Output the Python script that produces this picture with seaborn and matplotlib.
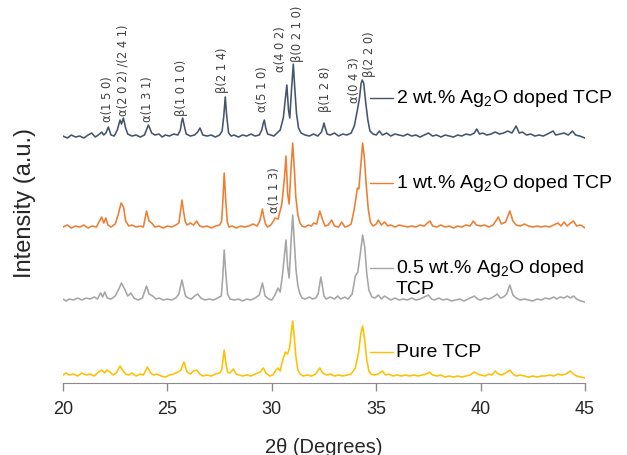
import numpy as np
import seaborn as sns
import matplotlib.pyplot as plt

# XRD patterns: (2theta, intensity above own baseline)
pure_tcp = [
    (20.0, 3), (20.15, 5), (20.3, 3), (20.5, 4), (20.7, 2), (20.9, 5), (21.1, 3), (21.3, 4),
    (21.5, 2), (21.65, 5), (21.85, 8), (22.0, 5), (22.1, 8), (22.25, 6), (22.4, 3), (22.55, 5),
    (22.73, 12), (22.85, 8), (23.0, 4), (23.15, 3), (23.3, 5), (23.5, 2), (23.7, 4), (23.85, 3),
    (24.04, 11), (24.2, 5), (24.35, 3), (24.5, 4), (24.7, 2), (24.9, 1), (25.1, 3), (25.3, 4),
    (25.5, 6), (25.65, 8), (25.73, 13), (25.8, 16), (25.88, 10), (25.95, 6), (26.1, 4),
    (26.25, 7), (26.4, 8), (26.55, 4), (26.7, 2), (26.9, 3), (27.1, 2), (27.3, 4), (27.5, 5),
    (27.6, 8), (27.66, 18), (27.72, 28), (27.8, 15), (27.88, 6), (28.0, 5), (28.15, 9),
    (28.3, 4), (28.45, 3), (28.6, 2), (28.8, 3), (29.0, 2), (29.2, 4), (29.45, 6), (29.6, 10),
    (29.72, 5), (29.9, 2), (30.05, 3), (30.2, 8), (30.3, 10), (30.4, 7), (30.52, 18),
    (30.65, 26), (30.75, 24), (30.85, 30), (30.93, 45), (31.0, 57), (31.08, 40), (31.15, 22),
    (31.25, 8), (31.35, 4), (31.5, 2), (31.7, 3), (31.9, 2), (32.1, 4), (32.3, 10), (32.45, 5),
    (32.6, 3), (32.8, 4), (33.0, 2), (33.2, 3), (33.4, 2), (33.6, 3), (33.8, 4), (34.0, 10),
    (34.15, 25), (34.27, 45), (34.35, 52), (34.45, 38), (34.55, 18), (34.65, 7), (34.75, 4),
    (34.9, 3), (35.1, 4), (35.3, 7), (35.45, 3), (35.6, 4), (35.8, 2), (36.0, 3), (36.2, 2),
    (36.4, 3), (36.6, 2), (36.8, 3), (37.0, 2), (37.2, 3), (37.4, 4), (37.55, 6), (37.7, 3),
    (37.9, 2), (38.1, 3), (38.3, 1), (38.5, 2), (38.7, 1), (38.9, 2), (39.1, 1), (39.3, 2),
    (39.5, 3), (39.7, 6), (39.85, 4), (40.0, 3), (40.2, 2), (40.4, 4), (40.55, 3), (40.7, 7),
    (40.85, 4), (41.0, 3), (41.2, 5), (41.4, 8), (41.55, 4), (41.7, 2), (41.9, 3), (42.1, 2),
    (42.3, 1), (42.5, 2), (42.7, 1), (42.9, 2), (43.1, 2), (43.3, 3), (43.5, 2), (43.7, 4),
    (43.9, 3), (44.1, 4), (44.3, 7), (44.45, 4), (44.6, 2), (44.8, 1), (45.0, 0),
]

ag_05 = [
    (20.0, 3), (20.15, 1), (20.3, 3), (20.5, 2), (20.7, 4), (20.9, 2), (21.1, 4), (21.3, 3),
    (21.5, 5), (21.65, 3), (21.8, 9), (21.9, 5), (22.0, 10), (22.12, 4), (22.3, 3), (22.5, 6),
    (22.65, 12), (22.8, 19), (22.95, 13), (23.1, 6), (23.25, 9), (23.4, 4), (23.6, 2), (23.8, 4),
    (24.0, 16), (24.12, 8), (24.3, 6), (24.45, 3), (24.6, 4), (24.8, 2), (25.0, 3), (25.2, 2),
    (25.4, 4), (25.55, 8), (25.63, 16), (25.7, 22), (25.78, 14), (25.87, 6), (26.0, 4),
    (26.15, 3), (26.3, 6), (26.45, 8), (26.6, 4), (26.8, 2), (27.0, 3), (27.2, 2), (27.4, 4),
    (27.58, 6), (27.65, 25), (27.72, 52), (27.8, 28), (27.88, 8), (28.0, 3), (28.2, 2),
    (28.4, 3), (28.6, 1), (28.8, 3), (29.0, 2), (29.2, 4), (29.4, 7), (29.55, 19), (29.68, 6),
    (29.85, 3), (30.0, 2), (30.15, 7), (30.3, 14), (30.4, 10), (30.5, 25), (30.6, 45),
    (30.68, 62), (30.76, 35), (30.83, 24), (30.92, 60), (31.0, 87), (31.08, 60), (31.16, 32),
    (31.25, 16), (31.35, 8), (31.45, 4), (31.6, 3), (31.8, 5), (31.95, 3), (32.1, 4),
    (32.22, 8), (32.29, 17), (32.35, 25), (32.42, 16), (32.5, 6), (32.6, 3), (32.8, 5),
    (33.0, 3), (33.15, 6), (33.3, 3), (33.5, 5), (33.65, 3), (33.85, 8), (34.0, 26),
    (34.12, 30), (34.25, 50), (34.35, 67), (34.45, 55), (34.55, 28), (34.65, 12), (34.8, 5),
    (34.95, 4), (35.1, 7), (35.25, 3), (35.4, 6), (35.55, 4), (35.7, 2), (35.9, 4), (36.1, 2),
    (36.3, 3), (36.5, 2), (36.7, 4), (36.9, 2), (37.1, 3), (37.3, 5), (37.5, 7), (37.65, 3),
    (37.8, 2), (38.0, 4), (38.2, 2), (38.4, 3), (38.6, 1), (38.8, 2), (39.0, 3), (39.2, 1),
    (39.4, 3), (39.7, 6), (39.85, 3), (40.0, 2), (40.2, 4), (40.4, 3), (40.6, 5), (40.8, 8),
    (40.95, 4), (41.1, 5), (41.25, 8), (41.4, 17), (41.55, 7), (41.7, 4), (41.9, 2), (42.1, 3),
    (42.3, 2), (42.5, 1), (42.7, 3), (42.9, 2), (43.1, 4), (43.3, 3), (43.5, 5), (43.65, 3),
    (43.8, 5), (44.0, 4), (44.15, 6), (44.3, 4), (44.45, 6), (44.6, 3), (44.8, 1), (45.0, 0),
]

ag_1 = [
    (20.0, 2), (20.2, 4), (20.4, 1), (20.6, 3), (20.8, 2), (21.0, 4), (21.2, 1), (21.4, 3),
    (21.6, 2), (21.75, 8), (21.85, 12), (21.95, 6), (22.05, 11), (22.15, 4), (22.3, 2), (22.5, 5),
    (22.65, 15), (22.78, 26), (22.9, 22), (23.0, 8), (23.15, 3), (23.3, 4), (23.5, 2), (23.7, 3),
    (23.85, 2), (24.0, 18), (24.12, 8), (24.25, 6), (24.4, 2), (24.6, 3), (24.8, 1), (25.0, 3),
    (25.2, 2), (25.4, 4), (25.55, 6), (25.63, 18), (25.7, 29), (25.77, 18), (25.86, 7),
    (25.95, 4), (26.1, 6), (26.25, 4), (26.4, 8), (26.55, 3), (26.7, 2), (26.9, 3), (27.1, 1),
    (27.3, 3), (27.5, 4), (27.6, 8), (27.66, 30), (27.72, 56), (27.79, 30), (27.87, 7),
    (27.95, 2), (28.1, 3), (28.3, 1), (28.5, 3), (28.7, 2), (28.9, 3), (29.1, 5), (29.3, 3),
    (29.42, 8), (29.5, 15), (29.55, 20), (29.62, 12), (29.7, 5), (29.8, 2), (29.95, 4),
    (30.08, 8), (30.15, 11), (30.3, 10), (30.48, 25), (30.6, 50), (30.68, 73), (30.76, 35),
    (30.83, 25), (30.92, 60), (31.0, 86), (31.08, 60), (31.15, 32), (31.25, 14), (31.35, 6),
    (31.45, 3), (31.6, 2), (31.75, 4), (31.9, 3), (32.0, 6), (32.15, 5), (32.3, 18), (32.42, 10),
    (32.55, 3), (32.7, 4), (32.87, 9), (33.0, 3), (33.2, 2), (33.35, 7), (33.5, 2), (33.65, 3),
    (33.8, 5), (33.95, 20), (34.1, 41), (34.17, 40), (34.27, 65), (34.35, 86), (34.43, 72),
    (34.52, 45), (34.62, 20), (34.72, 7), (34.85, 3), (35.0, 5), (35.1, 9), (35.25, 4),
    (35.4, 7), (35.55, 3), (35.7, 4), (35.9, 2), (36.1, 4), (36.3, 3), (36.5, 2), (36.7, 3),
    (36.9, 2), (37.1, 4), (37.3, 3), (37.45, 6), (37.58, 8), (37.7, 3), (37.9, 2), (38.1, 4),
    (38.3, 2), (38.5, 3), (38.7, 1), (38.9, 3), (39.1, 2), (39.3, 4), (39.5, 3), (39.65, 8),
    (39.8, 4), (40.0, 3), (40.2, 4), (40.4, 2), (40.6, 4), (40.85, 12), (41.0, 5), (41.2, 7),
    (41.4, 18), (41.55, 8), (41.7, 4), (41.9, 3), (42.1, 5), (42.3, 3), (42.5, 2), (42.7, 3),
    (42.9, 2), (43.1, 3), (43.3, 2), (43.5, 4), (43.7, 6), (43.85, 3), (44.0, 7), (44.15, 3),
    (44.3, 6), (44.45, 8), (44.6, 3), (44.8, 4), (45.0, 1),
]

ag_2 = [
    (20.0, 2), (20.2, 0), (20.4, 3), (20.6, 1), (20.8, 2), (21.0, 0), (21.2, 3), (21.37, 5),
    (21.55, 1), (21.75, 4), (21.85, 6), (21.95, 3), (22.05, 5), (22.17, 11), (22.3, 3),
    (22.45, 2), (22.6, 8), (22.73, 18), (22.8, 14), (22.89, 20), (23.0, 10), (23.1, 4),
    (23.3, 2), (23.5, 3), (23.7, 1), (23.9, 3), (24.09, 13), (24.25, 5), (24.4, 3), (24.6, 4),
    (24.75, 1), (24.9, 3), (25.1, 2), (25.3, 4), (25.5, 3), (25.62, 8), (25.68, 16),
    (25.73, 20), (25.8, 13), (25.9, 4), (26.1, 2), (26.3, 3), (26.45, 6), (26.56, 10),
    (26.7, 3), (26.9, 2), (27.1, 3), (27.3, 1), (27.5, 3), (27.62, 7), (27.7, 22), (27.77, 41),
    (27.84, 22), (27.93, 5), (28.05, 2), (28.2, 3), (28.4, 1), (28.6, 3), (28.8, 2), (29.0, 4),
    (29.2, 2), (29.4, 3), (29.52, 8), (29.58, 14), (29.64, 18), (29.71, 10), (29.8, 4),
    (29.95, 3), (30.1, 2), (30.25, 5), (30.4, 8), (30.55, 20), (30.65, 40), (30.72, 53),
    (30.8, 28), (30.86, 20), (30.95, 50), (31.03, 74), (31.1, 50), (31.18, 25), (31.28, 10),
    (31.4, 5), (31.6, 3), (31.8, 2), (32.0, 4), (32.2, 2), (32.38, 6), (32.45, 11), (32.5, 15),
    (32.56, 10), (32.65, 4), (32.8, 3), (33.0, 5), (33.2, 2), (33.4, 4), (33.6, 3), (33.8, 5),
    (33.95, 12), (34.1, 28), (34.2, 40), (34.28, 55), (34.33, 58), (34.4, 55), (34.5, 35),
    (34.6, 18), (34.7, 7), (34.85, 4), (35.0, 3), (35.15, 7), (35.3, 3), (35.5, 5), (35.7, 2),
    (35.9, 4), (36.1, 3), (36.3, 2), (36.5, 4), (36.7, 2), (36.9, 3), (37.1, 1), (37.3, 3),
    (37.5, 5), (37.7, 2), (37.9, 3), (38.1, 1), (38.3, 3), (38.5, 2), (38.7, 1), (38.9, 3),
    (39.1, 2), (39.3, 4), (39.5, 3), (39.7, 5), (39.81, 9), (39.95, 4), (40.1, 5), (40.3, 3),
    (40.5, 4), (40.7, 6), (40.9, 4), (41.1, 5), (41.3, 7), (41.5, 5), (41.7, 12), (41.85, 5),
    (42.0, 6), (42.2, 3), (42.4, 4), (42.6, 2), (42.8, 3), (43.0, 2), (43.2, 4), (43.47, 7),
    (43.6, 3), (43.8, 4), (44.0, 5), (44.2, 3), (44.4, 7), (44.55, 3), (44.75, 2), (45.0, 0),
]

series_names = ["Pure TCP", "0.5 wt.% Ag$_2$O doped\nTCP",
                "1 wt.% Ag$_2$O doped TCP", "2 wt.% Ag$_2$O doped TCP"]
series_data = [pure_tcp, ag_05, ag_1, ag_2]
colors = ["#FFC000", "#A5A5A5", "#ED7D31", "#44546A"]
offsets = [5, 81, 154, 245]
label_y = [31, 115, 200, 285]

# reflection labels
peak_labels = ["α(1 5 0)", "α(2 0 2) /(2 4 1)", "α(1 3 1)", "β(1 0 1 0)", "β(2 1 4)",
               "α(5 1 0)", "α(4 0 2)", "β(0 2 1 0)", "β(1 2 8)", "α(0 4 3)", "β(2 2 0)",
               "α(1 1 3)"]
peak_2theta = [22.11, 22.89, 24.05, 25.68, 27.64, 29.55, 30.44, 31.21, 32.55, 33.98,
               34.70, 30.11]
peak_label_y = [261, 267, 261, 267, 290, 271, 311, 321, 271, 280, 306, 170]

sns.set_style("white")
plt.rcParams['font.family'] = ['Liberation Sans', 'DejaVu Sans']
plt.rcParams['mathtext.fontset'] = 'custom'
plt.rcParams['mathtext.rm'] = 'Liberation Sans'

fig = plt.figure(figsize=(6.27, 4.55), dpi=100)
ax = fig.add_axes([0.1005, 0.1582, 0.8325, 0.7758])

for name, pts, c, off, ly in zip(series_names, series_data, colors, offsets, label_y):
    arr = np.array(pts)
    sns.lineplot(x=arr[:, 0], y=arr[:, 1] + off, color=c, linewidth=1.15,
                 estimator=None, ax=ax)
    ax.plot([34.7, 35.8], [ly, ly], color=c, linewidth=1.0)
    if "\n" in name:
        ax.text(35.95, ly + 10, name, va='top', ha='left', fontsize=14,
                linespacing=1.12, color='black')
    else:
        ax.text(35.95, ly, name, va='center', ha='left', fontsize=14, color='black')

for lab, x, y in zip(peak_labels, peak_2theta, peak_label_y):
    ax.text(x, y, lab, rotation=90, ha='center', va='bottom', fontsize=8.3,
            color='#404040', family=['DejaVu Sans'])

ax.set_xlim(20, 45)
ax.set_ylim(0, 353)
ax.set_xticks(range(20, 46, 5))
ax.set_yticks([])
sns.despine(ax=ax, left=True)
ax.spines['bottom'].set_color('#8c8c8c')
ax.tick_params(axis='x', direction='out', length=6, width=1, color='#8c8c8c',
               labelsize=13, pad=7, bottom=True)
ax.set_xlabel("2θ (Degrees)", fontsize=14.5, labelpad=14)
ax.set_ylabel("Intensity (a.u.)", fontsize=17)
ax.yaxis.set_label_coords(-0.052, 0.51)

fig.savefig("out.png", dpi=100)
